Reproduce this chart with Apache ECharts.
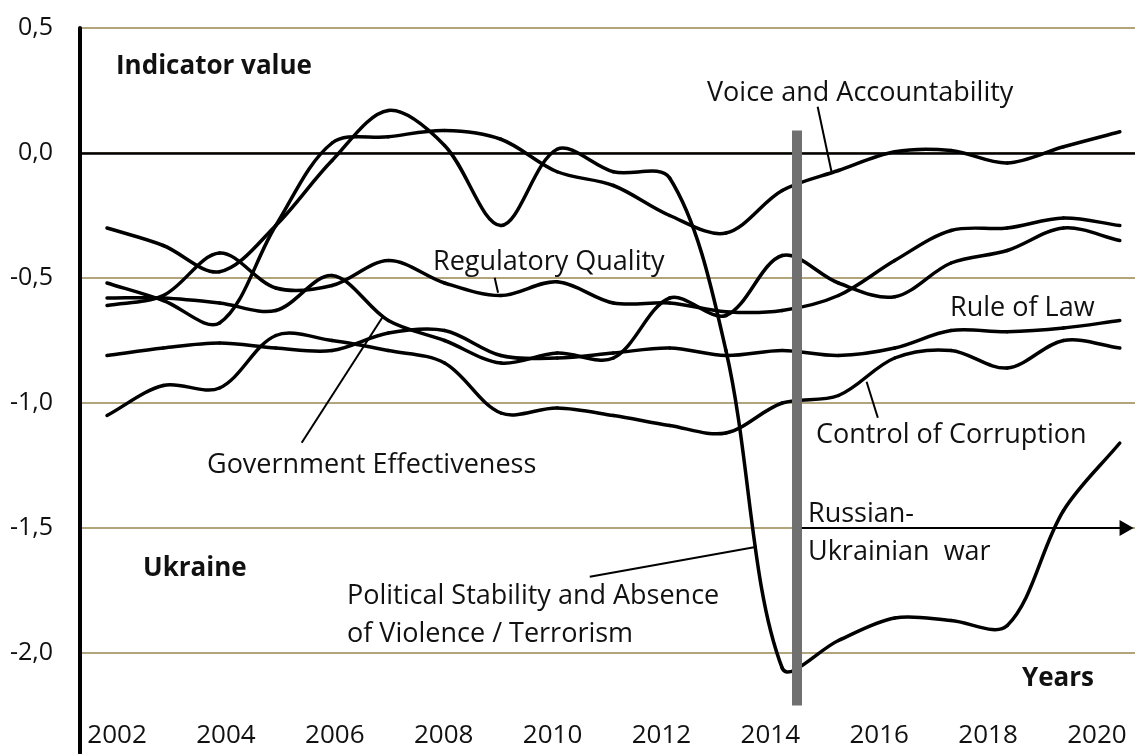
<!DOCTYPE html>
<html>
<head>
<meta charset="utf-8">
<title>Ukraine governance indicators</title>
<script src="https://cdn.jsdelivr.net/npm/echarts@6.0.0/dist/echarts.min.js"></script>
<style>
  html, body { margin: 0; padding: 0; background: #fff; }
  #main { width: 1135px; height: 754px; }
</style>
</head>
<body>
<div id="main"></div>
<script>
const years = [2002, 2003, 2004, 2005, 2006, 2007, 2008, 2009, 2010, 2011,
  2012, 2013, 2014, 2015, 2016, 2017, 2018, 2019, 2020];
const tickYears = [2002, 2004, 2006, 2008, 2010, 2012, 2014, 2016, 2018, 2020];

const voiceAccountability = [-0.52, -0.59, -0.68, -0.29, 0.04, 0.065, 0.09, 0.055, -0.075, -0.13,
  -0.25, -0.32, -0.15, -0.07, 0.005, 0.01, -0.04, 0.025, 0.085];
const politicalStability = [-0.30, -0.37, -0.475, -0.29, -0.03, 0.17, 0.03, -0.29, 0.015, -0.075,
  -0.10, -0.79, -2.06, -1.95, -1.86, -1.87, -1.89, -1.43, -1.16];
const govEffectiveness = [-0.58, -0.58, -0.60, -0.63, -0.49, -0.67, -0.75, -0.84, -0.80, -0.82,
  -0.58, -0.65, -0.41, -0.52, -0.575, -0.44, -0.39, -0.30, -0.35];
const regulatoryQuality = [-0.61, -0.57, -0.40, -0.54, -0.53, -0.43, -0.52, -0.57, -0.515, -0.60,
  -0.60, -0.635, -0.63, -0.57, -0.43, -0.31, -0.30, -0.26, -0.29];
const ruleOfLaw = [-0.81, -0.78, -0.76, -0.78, -0.79, -0.72, -0.71, -0.81, -0.82, -0.80,
  -0.78, -0.81, -0.79, -0.81, -0.78, -0.71, -0.715, -0.70, -0.67];
const controlCorruption = [-1.05, -0.93, -0.94, -0.73, -0.75, -0.79, -0.84, -1.04, -1.02, -1.05,
  -1.09, -1.12, -1.00, -0.97, -0.82, -0.79, -0.86, -0.75, -0.78];

const warYear = 2014.26;

const font = '"Open Sans", sans-serif';
const chart = echarts.init(document.getElementById("main"));

// smooth segment between point i and i+1, control points from the neighbours
// (same idea as a spreadsheet "smoothed line", no clamping)
function curve(name, vals) {
  const n = years.length;
  const at = (api, j) => {
    j = Math.max(0, Math.min(n - 1, j));
    return api.coord([years[j], vals[j]]);
  };
  const handles = (p0, p1, p2) => {
    const vx = p2[0] - p0[0], vy = p2[1] - p0[1];
    const d0 = Math.hypot(p1[0] - p0[0], p1[1] - p0[1]);
    const d1 = Math.hypot(p2[0] - p1[0], p2[1] - p1[1]);
    const sum = d0 + d1 || 1;
    const k = 1 / 3;
    return {
      inX: p1[0] - vx * k * d0 / sum, inY: p1[1] - vy * k * d0 / sum,
      outX: p1[0] + vx * k * d1 / sum, outY: p1[1] + vy * k * d1 / sum
    };
  };
  return {
    name: name,
    type: "custom",
    xAxisIndex: 0,
    yAxisIndex: 0,
    z: 3,
    data: years.map((y, i) => [y, vals[i]]),
    encode: { x: 0, y: 1 },
    renderItem: function (params, api) {
      const i = params.dataIndex;
      if (i >= n - 1) return null;
      const p0 = at(api, i - 1), p1 = at(api, i), p2 = at(api, i + 1), p3 = at(api, i + 2);
      const a = handles(p0, p1, p2);
      const b = handles(p1, p2, p3);
      return {
        type: "bezierCurve",
        shape: {
          x1: p1[0], y1: p1[1], x2: p2[0], y2: p2[1],
          cpx1: a.outX, cpy1: a.outY, cpx2: b.inX, cpy2: b.inY
        },
        style: { stroke: "#000", lineWidth: 3.5, fill: null, lineCap: "round" }
      };
    }
  };
}

function seg(x1, y1, x2, y2) {
  return [{ coord: [x1, y1] }, { coord: [x2, y2] }];
}

function label(text, x, y, bold) {
  return {
    type: "text",
    x: x,
    y: y,
    z: 10,
    style: {
      text: text,
      fill: "#111",
      fontSize: bold ? 26 : 27,
      fontFamily: font,
      fontWeight: bold ? "bold" : "normal",
      verticalAlign: "middle"
    }
  };
}

chart.setOption({
  animation: false,
  grid: { left: 80, right: 0, top: 28, bottom: -24, outerBoundsMode: "none" },
  xAxis: [
    {
      type: "value",
      min: 2001.52,
      max: 2020.27,
      show: false
    },
    {
      type: "value",
      min: 2001.32,
      max: 2020.70,
      position: "bottom",
      axisLine: { show: false, onZero: false },
      axisTick: { show: false },
      splitLine: { show: false },
      axisLabel: {
        inside: true,
        margin: 42,
        verticalAlign: "middle",
        customValues: tickYears,
        color: "#111",
        fontSize: 26,
        fontFamily: font,
        formatter: v => String(v)
      }
    }
  ],
  yAxis: {
    type: "value",
    min: -2.5,
    max: 0.5,
    interval: 0.5,
    axisLine: { show: true, lineStyle: { color: "#000", width: 4 } },
    axisTick: { show: false },
    axisLabel: {
      color: "#111",
      fontSize: 25,
      fontFamily: font,
      margin: 27,
      formatter: v => v.toFixed(1).replace(".", ",")
    },
    splitLine: { lineStyle: { color: "#b2a57c", width: 2 } }
  },
  series: [
    {
      name: "zero",
      type: "line",
      data: [],
      z: 2,
      markLine: {
        silent: true,
        symbol: "none",
        label: { show: false },
        lineStyle: { color: "#000", width: 2.5, type: "solid" },
        data: [{ yAxis: 0 }]
      }
    },
    curve("Voice and Accountability", voiceAccountability),
    curve("Political Stability and Absence of Violence / Terrorism", politicalStability),
    curve("Government Effectiveness", govEffectiveness),
    curve("Regulatory Quality", regulatoryQuality),
    curve("Rule of Law", ruleOfLaw),
    curve("Control of Corruption", controlCorruption),
    {
      name: "leaders",
      type: "line",
      data: [],
      z: 4,
      markLine: {
        silent: true,
        symbol: "none",
        label: { show: false },
        lineStyle: { color: "#000", width: 2, type: "solid" },
        data: [
          seg(2014.63, 0.185, 2014.88, -0.079),
          seg(2008.89, -0.499, 2008.95, -0.559),
          seg(2005.46, -1.159, 2006.89, -0.659),
          seg(2015.70, -1.059, 2015.50, -0.915),
          seg(2010.58, -1.695, 2013.55, -1.575)
        ]
      }
    },
    {
      name: "war",
      type: "line",
      data: [],
      z: 6,
      markLine: {
        silent: true,
        symbol: "none",
        label: { show: false },
        lineStyle: { color: "#707070", width: 10, type: "solid" },
        data: [seg(warYear, 0.09, warYear, -2.21)]
      }
    },
    {
      name: "arrow",
      type: "line",
      data: [],
      z: 5,
      markLine: {
        silent: true,
        symbol: ["none", "triangle"],
        symbolSize: [16, 14],
        label: { show: false },
        lineStyle: { color: "#000", width: 2, type: "solid" },
        itemStyle: { color: "#000" },
        data: [seg(2014.35, -1.5, 2020.12, -1.5)]
      }
    }
  ],
  graphic: [
    label("Indicator value", 116, 67, true),
    label("Ukraine", 143, 569, true),
    label("Years", 1022, 679, true),
    label("Voice and Accountability", 707, 93),
    label("Regulatory Quality", 433, 262),
    label("Rule of Law", 950, 308),
    label("Control of Corruption", 816, 435),
    label("Government Effectiveness", 207, 465),
    label("Political Stability and Absence", 347, 596),
    label("of Violence / Terrorism", 347, 634),
    label("Russian-", 808, 514),
    label("Ukrainian  war", 808, 552)
  ]
});
</script>
</body>
</html>
